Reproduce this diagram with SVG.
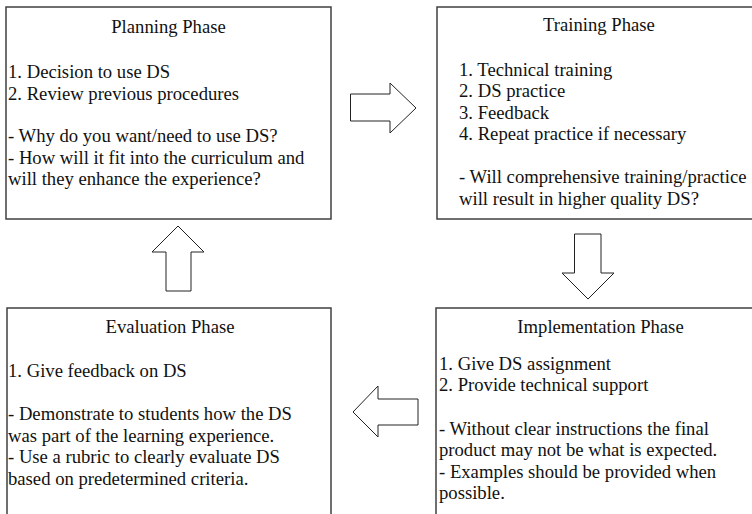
<svg xmlns="http://www.w3.org/2000/svg" width="752" height="514" viewBox="0 0 752 514">
<style>
.box{fill:#fff;stroke:#404040;stroke-width:1.5}
.arr{fill:#fff;stroke:#222;stroke-width:1}
.tx text{font-size:18.67px;fill:#111}
.t{text-anchor:middle}
</style>
<rect width="752" height="514" fill="#fff"/>
<g class="tx" font-family="'Liberation Serif', Tinos, 'Times New Roman', 'DejaVu Serif', serif">
<g id="planning">
<rect class="box" x="6" y="7" width="325" height="212"/>
<text class="t" x="168.5" y="33">Planning Phase</text>
<text x="8" y="78">1. Decision to use DS</text>
<text x="8" y="99.5">2. Review previous procedures</text>
<text x="8" y="142">- Why do you want/need to use DS?</text>
<text x="8" y="163.5">- How will it fit into the curriculum and</text>
<text x="8" y="185">will they enhance the experience?</text>
</g>
<g id="training">
<rect class="box" x="437" y="7" width="330" height="212"/>
<text class="t" x="599" y="31">Training Phase</text>
<text x="459" y="75.5">1. Technical training</text>
<text x="459" y="97">2. DS practice</text>
<text x="459" y="118.5">3. Feedback</text>
<text x="459" y="140">4. Repeat practice if necessary</text>
<text x="459" y="183">- Will comprehensive training/practice</text>
<text x="459" y="204.5">will result in higher quality DS?</text>
</g>
<g id="evaluation">
<rect class="box" x="7" y="308" width="324" height="220"/>
<text class="t" x="170" y="333">Evaluation Phase</text>
<text x="8" y="377">1. Give feedback on DS</text>
<text x="8" y="420">- Demonstrate to students how the DS</text>
<text x="8" y="441.5">was part of the learning experience.</text>
<text x="8" y="463">- Use a rubric to clearly evaluate DS</text>
<text x="8" y="484.5">based on predetermined criteria.</text>
</g>
<g id="implementation">
<rect class="box" x="436" y="308" width="330" height="220"/>
<text class="t" x="600.5" y="333">Implementation Phase</text>
<text x="439" y="369.5">1. Give DS assignment</text>
<text x="439" y="391">2. Provide technical support</text>
<text x="439" y="434.5">- Without clear instructions the final</text>
<text x="439" y="456">product may not be what is expected.</text>
<text x="439" y="477.5">- Examples should be provided when</text>
<text x="439" y="499">possible.</text>
</g>
</g>
<g id="connectors">
<polygon class="arr" points="350.5,94 390,94 390,83 416,108 390,133 390,121 350.5,121"/>
<polygon class="arr" points="574.5,234 601,234 601,273 614,273 588,299 562,273 574.5,273"/>
<polygon class="arr" points="178,226 204,252 191,252 191,291 166,291 166,252 152,252"/>
<polygon class="arr" points="353,412 378,386 378,399 418,399 418,425 378,425 378,437"/>
</g>
</svg>
